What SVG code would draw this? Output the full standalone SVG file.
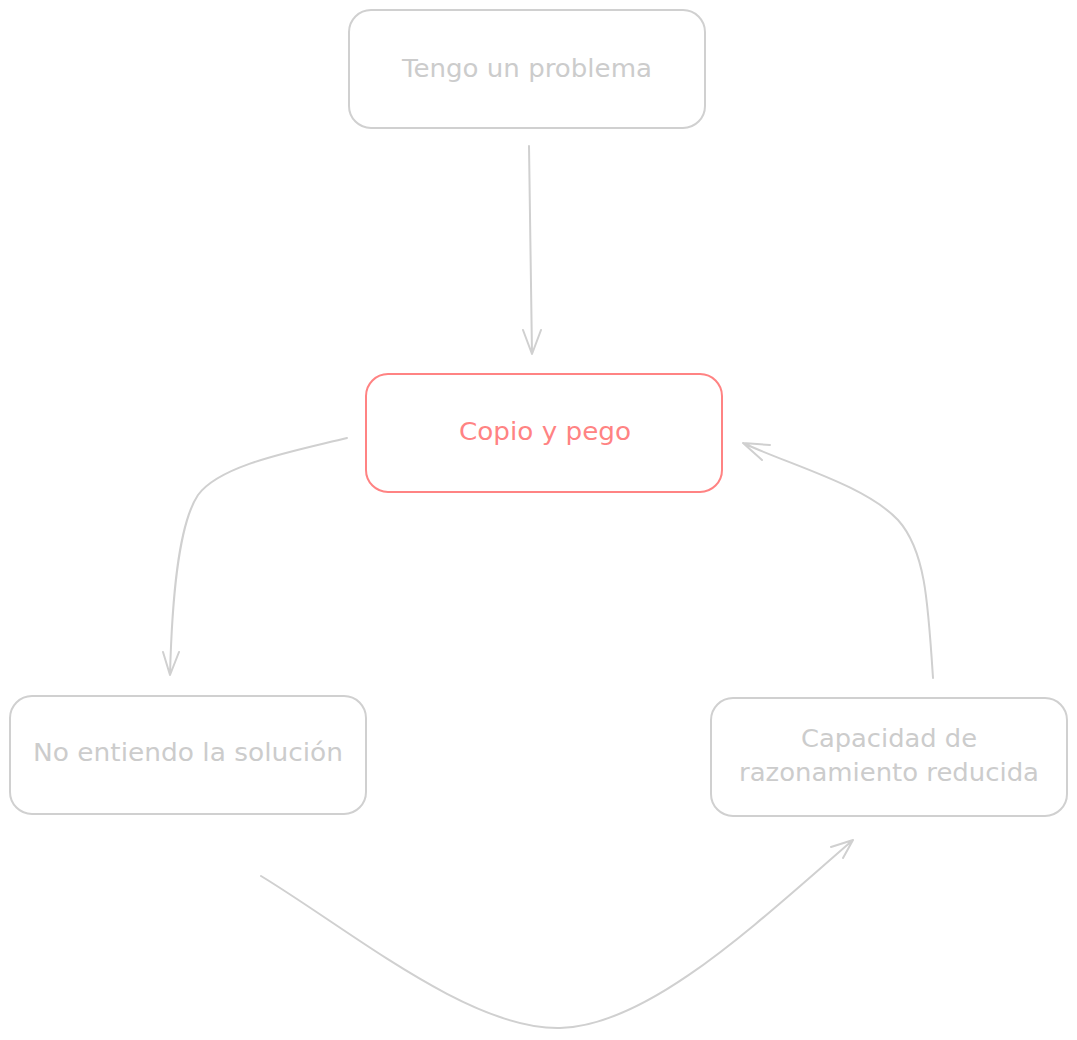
<svg xmlns="http://www.w3.org/2000/svg" width="1077" height="1040" viewBox="0 0 1077 1040">
<style>
.box{fill:#ffffff;stroke:#d0d0d0;stroke-width:2}
.red{stroke:#ff8383}
.lbl{font-family:"DejaVu Sans","Liberation Sans",sans-serif;font-size:24px;fill:#cccccc;text-anchor:middle;dominant-baseline:central}
.redt{fill:#ff8383}
.con{fill:none;stroke:#d0d0d0;stroke-width:2;stroke-linecap:round;stroke-linejoin:round}
</style>
<rect width="1077" height="1040" fill="#ffffff"/>
<g id="connectors">
<path class="con" d="M529,146 L532,354 M523,330 L532,354 L541,330"/>
<path class="con" d="M347,438 C290,452 220,465 198,495 C178,525 172,600 170,675 M163,652 L170,675 L179,652"/>
<path class="con" d="M933,678 C928,600 925,550 898,520 C865,485 790,465 743,443 M770,445 L743,443 L762,460"/>
<path class="con" d="M261,876 C350,930 470,1030 560,1028 C650,1026 760,920 853,840 M831,847 L853,840 L843,858"/>
</g>
<g id="n1">
<rect class="box" x="349" y="10" width="356" height="118" rx="22"/>
<text class="lbl" x="527" y="69" textLength="250" lengthAdjust="spacingAndGlyphs">Tengo un problema</text>
</g>
<g id="n2">
<rect class="box red" x="366" y="374" width="356" height="118" rx="22"/>
<text class="lbl redt" x="545" y="432" textLength="172" lengthAdjust="spacingAndGlyphs">Copio y pego</text>
</g>
<g id="n3">
<rect class="box" x="10" y="696" width="356" height="118" rx="22"/>
<text class="lbl" x="188" y="753" textLength="310" lengthAdjust="spacingAndGlyphs">No entiendo la solución</text>
</g>
<g id="n4">
<rect class="box" x="711" y="698" width="356" height="118" rx="22"/>
<text class="lbl" x="889" y="739" textLength="176" lengthAdjust="spacingAndGlyphs">Capacidad de</text>
<text class="lbl" x="889" y="773" textLength="300" lengthAdjust="spacingAndGlyphs">razonamiento reducida</text>
</g>
</svg>
